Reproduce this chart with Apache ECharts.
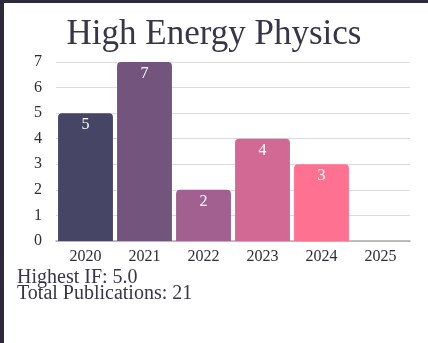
<!DOCTYPE html>
<html>
<head>
<meta charset="utf-8">
<script src="https://cdn.jsdelivr.net/npm/echarts@6/dist/echarts.min.js"></script>
<style>
  html, body { margin: 0; padding: 0; background: #fff; overflow: hidden; }
  #frame { width: 428px; height: 343px; position: relative; background: #fff; }
  #edgeTop { position: absolute; left: 0; top: 0; width: 428px; height: 3px; background: #2e2a39; }
  #edgeLeft { position: absolute; left: 0; top: 0; width: 4px; height: 343px; background: #2e2a39; }
  #chart { position: absolute; left: 0; top: 0; width: 428px; height: 343px; }
</style>
</head>
<body>
<div id="frame">
  <div id="edgeTop"></div>
  <div id="edgeLeft"></div>
  <div id="chart"></div>
</div>
<script>
// Publications per year
const years = ['2020', '2021', '2022', '2023', '2024', '2025'];
const publications = [5, 7, 2, 4, 3, 0];
const barColors = ['#464565', '#72547c', '#a1608f', '#d26894', '#ff7190', '#ffffff'];
const yTicks = [0, 1, 2, 3, 4, 5, 6, 7];
const titleText = 'High Energy Physics';
const summaryLines = ['Highest IF: 5.0', 'Total Publications: 21'];

const serif = '"Liberation Serif", "DejaVu Serif", serif';
const ink = '#39344a';

const chart = echarts.init(document.getElementById('chart'), null, { renderer: 'canvas' });
chart.setOption({
  animation: false,
  title: {
    text: titleText,
    left: 'center',
    top: 12,
    textStyle: { fontFamily: serif, fontSize: 35, fontWeight: 'normal', color: ink }
  },
  grid: { left: 56, right: 18, top: 62, bottom: 102, containLabel: false },
  xAxis: {
    type: 'category',
    data: years,
    axisLine: { lineStyle: { color: '#aaaaaa', width: 1.5 } },
    axisTick: { show: false },
    axisLabel: { fontFamily: serif, fontSize: 16, color: '#2f2b38', margin: 8 }
  },
  yAxis: {
    type: 'value',
    min: yTicks[0],
    max: yTicks[yTicks.length - 1],
    interval: 1,
    axisLine: { show: false },
    axisTick: { show: false },
    splitLine: { lineStyle: { color: '#dcdcdc', width: 1 } },
    axisLabel: { fontFamily: serif, fontSize: 16, color: '#2f2b38', margin: 14 }
  },
  series: [{
    type: 'bar',
    data: publications.map((v, i) => ({ value: v, itemStyle: { color: barColors[i] } })),
    barCategoryGap: '7%',
    itemStyle: { borderRadius: [4, 4, 0, 0] },
    label: {
      show: true,
      position: 'insideTop',
      distance: 4,
      formatter: p => (p.value > 0 ? String(p.value) : ''),
      fontFamily: serif,
      fontSize: 16,
      color: '#ffffff'
    }
  }],
  graphic: summaryLines.map((line, i) => ({
    type: 'text',
    left: 17,
    top: 268 + i * 16,
    style: { text: line, font: '20px ' + serif, fill: ink }
  }))
});
</script>
</body>
</html>
